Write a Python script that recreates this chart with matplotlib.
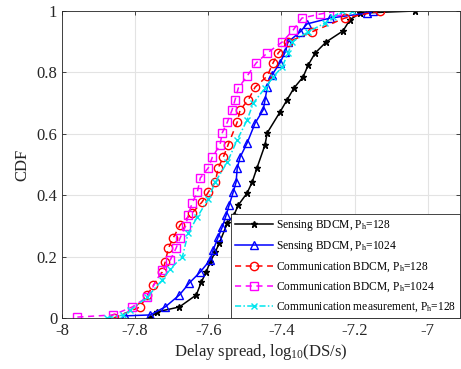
import matplotlib

matplotlib.use("Agg")
import matplotlib.pyplot as plt

plt.rcParams["font.family"] = ["Liberation Serif", "DejaVu Serif"]
plt.rcParams["mathtext.fontset"] = "custom"
plt.rcParams["mathtext.rm"] = "Liberation Serif"
plt.rcParams["mathtext.it"] = "Liberation Serif:italic"

# curves: (log10 delay spread, CDF)
sens128_x = [-7.76, -7.74, -7.679, -7.633, -7.619, -7.606, -7.595, -7.581, -7.570,
             -7.548, -7.530, -7.518, -7.494, -7.480, -7.467, -7.445, -7.439, -7.404,
             -7.385, -7.366, -7.341, -7.327, -7.308, -7.278, -7.232, -7.213, -7.186,
             -7.035]
sens128_y = [0.0, 0.02, 0.036, 0.075, 0.117, 0.150, 0.182, 0.215, 0.244,
             0.309, 0.335, 0.368, 0.407, 0.443, 0.489, 0.564, 0.603, 0.671,
             0.710, 0.749, 0.785, 0.824, 0.863, 0.899, 0.935, 0.971, 0.993,
             1.0]

sens1024_x = [-7.827, -7.759, -7.718, -7.679, -7.652, -7.622, -7.595, -7.587, -7.573,
              -7.562, -7.551, -7.543, -7.532, -7.524, -7.521, -7.513, -7.494, -7.472,
              -7.450, -7.445, -7.439, -7.426, -7.404, -7.390, -7.382, -7.349, -7.330,
              -7.267, -7.166, -7.150]
sens1024_y = [0.007, 0.010, 0.036, 0.075, 0.114, 0.150, 0.189, 0.221, 0.264,
              0.296, 0.336, 0.368, 0.410, 0.443, 0.489, 0.524, 0.570, 0.635,
              0.678, 0.710, 0.752, 0.792, 0.831, 0.866, 0.899, 0.932, 0.958,
              0.977, 0.993, 1.0]

comm128_x = [-7.859, -7.786, -7.767, -7.750, -7.726, -7.718, -7.709, -7.696, -7.677,
             -7.644, -7.617, -7.600, -7.581, -7.573, -7.559, -7.546, -7.521, -7.513,
             -7.491, -7.472, -7.439, -7.423, -7.409, -7.382, -7.317, -7.227, -7.131]
comm128_y = [0.0, 0.036, 0.075, 0.107, 0.150, 0.182, 0.228, 0.261, 0.303,
             0.342, 0.378, 0.410, 0.443, 0.489, 0.524, 0.564, 0.638, 0.678,
             0.710, 0.752, 0.788, 0.831, 0.863, 0.899, 0.932, 0.977, 1.0]

comm1024_x = [-7.958, -7.86, -7.808, -7.767, -7.726, -7.704, -7.688, -7.677, -7.662,
              -7.655, -7.644, -7.630, -7.622, -7.600, -7.589, -7.568, -7.562, -7.548,
              -7.535, -7.527, -7.518, -7.494, -7.469, -7.439, -7.398, -7.368, -7.344,
              -7.295, -7.248]
comm1024_y = [0.003, 0.010, 0.036, 0.068, 0.156, 0.189, 0.228, 0.261, 0.300,
              0.336, 0.375, 0.410, 0.456, 0.489, 0.524, 0.564, 0.603, 0.638,
              0.678, 0.710, 0.749, 0.788, 0.831, 0.863, 0.899, 0.938, 0.977,
              0.990, 1.0]

meas128_x = [-7.876, -7.832, -7.813, -7.767, -7.726, -7.704, -7.671, -7.655, -7.630,
             -7.600, -7.581, -7.548, -7.521, -7.494, -7.477, -7.445, -7.423, -7.398,
             -7.382, -7.371, -7.327, -7.281, -7.259, -7.235, -7.207]
meas128_y = [0.0, 0.010, 0.026, 0.068, 0.124, 0.160, 0.199, 0.277, 0.329,
             0.388, 0.443, 0.508, 0.580, 0.645, 0.700, 0.749, 0.785, 0.818,
             0.863, 0.899, 0.932, 0.961, 0.980, 1.0, 1.0]

x_ticks = [-8, -7.8, -7.6, -7.4, -7.2, -7]
x_tick_labels = ["-8", "-7.8", "-7.6", "-7.4", "-7.2", "-7"]
y_ticks = [0, 0.2, 0.4, 0.6, 0.8, 1]
y_tick_labels = ["0", "0.2", "0.4", "0.6", "0.8", "1"]

fig = plt.figure(figsize=(4.61, 3.69), dpi=100)
ax = fig.add_axes([62 / 461, 51 / 369, 398 / 461, 307 / 369])

ax.plot(sens128_x, sens128_y, color="black", lw=1.1, ls="-", marker="*",
        ms=5, mfc="black", mec="black", label=r"Sensing BDCM, P$_\mathrm{h}$=128")
ax.plot(sens1024_x, sens1024_y, color="#0000ff", lw=1.1, ls="-", marker="^",
        ms=6, mfc="none", mec="#0000ff", mew=1.0,
        label=r"Sensing BDCM, P$_\mathrm{h}$=1024")
ax.plot(comm128_x, comm128_y, color="#ff0000", lw=1.1, ls=(0, (4, 3)), marker="o",
        ms=6, mfc="none", mec="#ff0000", mew=1.0,
        label=r"Communication BDCM, P$_\mathrm{h}$=128")
ax.plot(comm1024_x, comm1024_y, color="#ff00ff", lw=1.1, ls=(0, (4, 3)), marker="s",
        ms=5.5, mfc="none", mec="#ff00ff", mew=1.0,
        label=r"Communication BDCM, P$_\mathrm{h}$=1024")
ax.plot(meas128_x, meas128_y, color="#00e5ee", lw=1.1, ls=(0, (4, 1.5, 1, 1.5)),
        marker="x", ms=5, mec="#00e5ee", mew=1.0,
        label=r"Communication measurement, P$_\mathrm{h}$=128")

ax.set_xlim(-8, -6.912)
ax.set_ylim(0, 1)
ax.set_xticks(x_ticks)
ax.set_xticklabels(x_tick_labels)
ax.set_yticks(y_ticks)
ax.set_yticklabels(y_tick_labels)
ax.grid(True, color="#e3e3e3", lw=0.8)
ax.set_axisbelow(True)
ax.tick_params(direction="in", top=True, right=True, length=3, labelsize=12,
               colors="#262626", width=0.6)
for s in ax.spines.values():
    s.set_color("#262626")
    s.set_linewidth(0.6)

ax.set_xlabel(r"Delay spread, log$_{10}$(DS/s)", fontsize=12, color="#262626",
              labelpad=2)
ax.set_ylabel("CDF", fontsize=12, color="#262626", labelpad=4)

leg = ax.legend(loc="lower right", bbox_to_anchor=(1.0, 0.0), borderaxespad=0.0,
                fontsize=8.3, handlelength=3.3, handletextpad=0.25, labelspacing=0.55,
                borderpad=0.35, fancybox=False, framealpha=1.0, edgecolor="#262626")
leg.get_frame().set_linewidth(0.6)

fig.savefig("out.png", dpi=100)
